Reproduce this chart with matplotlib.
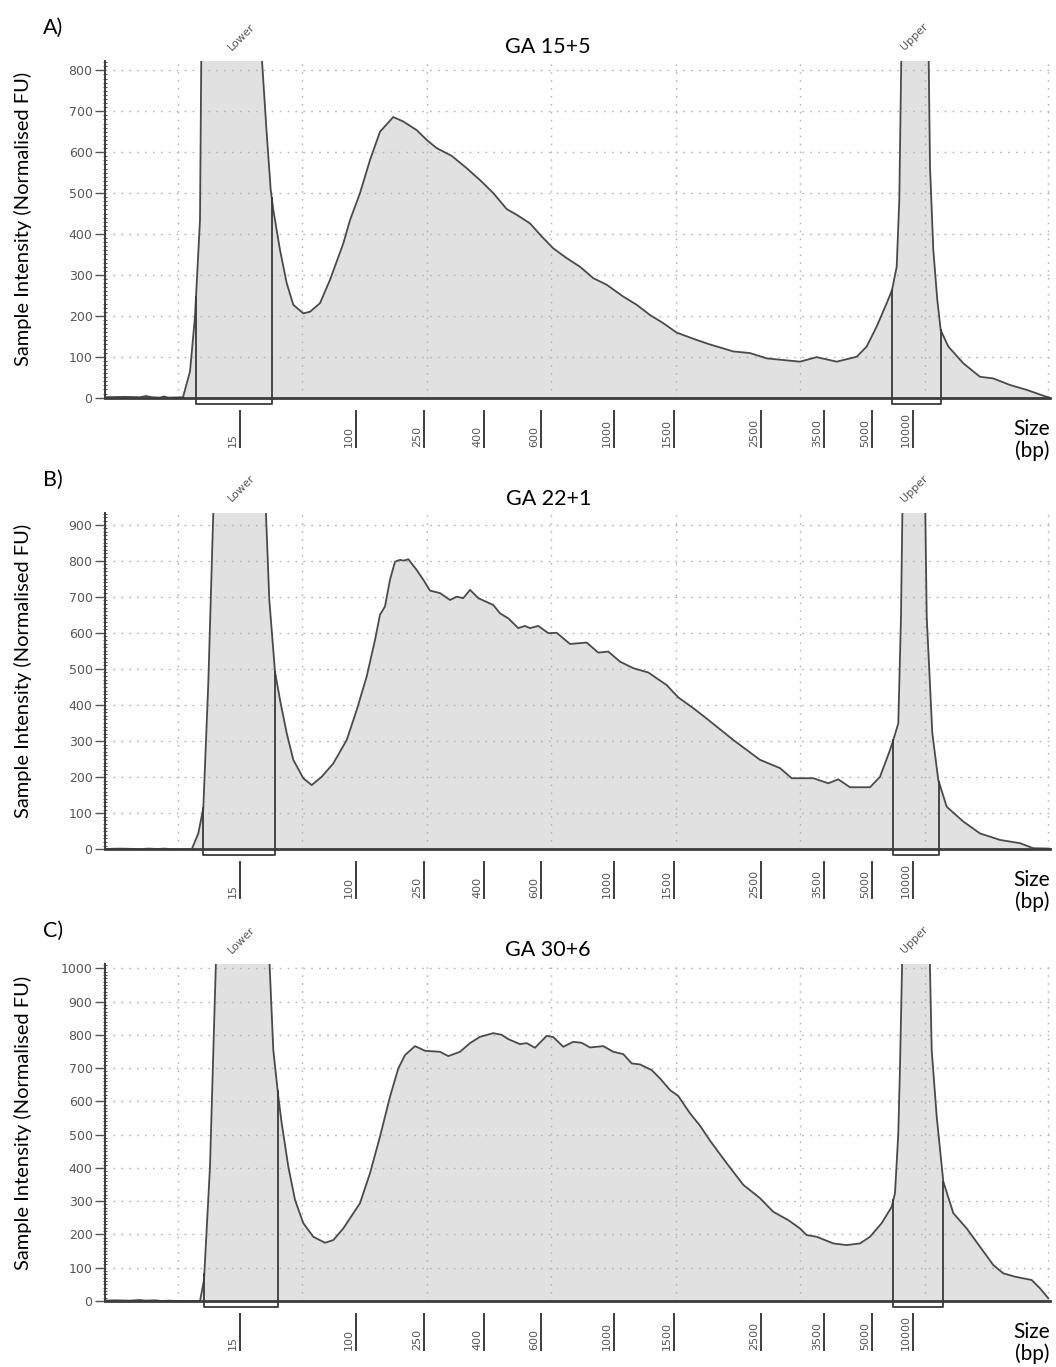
import numpy as np
import matplotlib.pyplot as plt
from matplotlib.ticker import MultipleLocator

W, H = 1056, 1367

# ladder (size standard) positions along the electrophoresis axis and their labels
ladder_pos = [240, 356, 424, 484, 541, 614, 674, 761, 824, 872, 913]
ladder_bp = ['15', '100', '250', '400', '600', '1000', '1500', '2500', '3500', '5000', '10000']
grid_pos = [178, 302, 427, 551, 676, 800, 925, 1048]
marker_names = ['Lower', 'Upper']
marker_label_pos = [233, 906]

# A) GA 15+5
pos_a = [105, 125, 140, 146, 152, 160, 164, 168, 183, 190, 195, 200, 201.5, 260, 266.7, 270.7, 273.3,
         280, 286.7, 293.3, 303.3, 310, 320, 330, 343.3, 350, 360, 370, 380, 393.3, 403.3, 416.7,
         426.7, 436.7, 451.7, 466.7, 481.7, 493.3, 506.7, 516.7, 530, 541.7, 553.3, 566.7, 580,
         593.3, 606.7, 623.3, 636.7, 650, 663.3, 676.7, 696.7, 710, 733.3, 750, 766.7, 783.3, 800,
         816.7, 836.7, 856.7, 866.7, 876.7, 886.7, 892, 896.7, 899.3, 901.7, 928.3, 930, 933.3,
         937.3, 940.7, 948.3, 963.3, 980, 993.3, 1010, 1026.7, 1046.7, 1050]
fu_a = [1, 2, 1, 4, 1, 0, 3, 0, 1, 64, 198, 434, 900, 900, 646, 508, 459,
        361, 280, 227, 206, 210, 231, 288, 377, 434, 500, 581, 650, 686, 675, 654,
        630, 610, 591, 561, 528, 500, 461, 447, 426, 394, 365, 341, 320,
        292, 276, 247, 227, 202, 182, 159, 141, 130, 113, 109, 96, 92, 88,
        99, 88, 100, 125, 174, 231, 263, 320, 483, 900, 900, 565, 361,
        239, 165, 125, 84, 51, 47, 31, 19, 2, 0]
regions_a = [(196, 271.7), (892, 940.7)]

# B) GA 22+1
pos_b = [105, 120, 135, 140, 148, 158, 165, 172, 191.7, 198.3, 203.3, 208.3, 214, 265, 269.3, 275,
         280, 286.7, 293.3, 303.3, 311.7, 321.7, 333.3, 346.7, 356.7, 366.7, 375, 380, 385, 390,
         395, 400, 404, 408.3, 416.7, 423.3, 430, 440, 450, 456.7, 463.3, 470, 478.3, 493.3, 500,
         508.3, 518.3, 525, 530, 538.3, 548.3, 556.7, 570, 586.7, 598.3, 608.3, 620, 633.3, 648.3,
         666.7, 678.3, 693.3, 705, 716.7, 733.3, 760, 780, 791.7, 800, 813.3, 828.3, 838.3, 850,
         870, 880, 890, 893.3, 898.3, 901, 902.7, 925, 926.7, 932.3, 938.3, 946.7, 963.3, 980,
         1000, 1020, 1033.3, 1050]
fu_b = [1, 2, 1, 0, 2, 1, 2, 0, 0, 44, 114, 460, 1000, 1000, 691, 492,
        414, 322, 248, 197, 178, 201, 238, 303, 386, 479, 580, 650, 673, 747,
        797, 802, 800, 804, 774, 747, 717, 710, 691, 700, 696, 719, 696, 677, 654,
        640, 613, 619, 613, 619, 599, 600, 569, 573, 545, 548, 520, 502, 490,
        455, 421, 391, 366, 340, 303, 248, 225, 197, 197, 197, 183, 194, 172,
        172, 201, 275, 303, 349, 645, 1000, 1000, 645, 322, 192, 118, 77, 44,
        26, 17, 3, 2]
regions_b = [(203.3, 275), (893.3, 939)]

# C) GA 30+6
pos_c = [104, 115, 130, 140, 145, 155, 162, 170, 175, 200, 204, 210, 216.7, 268.3, 273.3, 278.3,
         281.7, 288.3, 295, 303.3, 313.3, 325, 333.3, 343.3, 360, 370, 380, 390, 398.3, 405, 415,
         425, 440, 448.3, 460, 470, 480, 493.3, 501.7, 508.3, 520, 526.7, 535, 546.7, 553.3, 563.3,
         573.3, 581.7, 590, 603.3, 613.3, 623.3, 631.7, 640, 651.7, 660, 670, 678.3, 690, 700, 710,
         726.7, 743.3, 760, 773.3, 788.3, 800, 806.7, 816.7, 833.3, 846.7, 860, 870, 881.7, 891.7,
         895, 898.3, 900, 902.7, 929.3, 931.7, 936.7, 943.3, 953.3, 966.7, 980, 993.3, 1003.3,
         1015, 1031.7, 1040, 1048.3]
fu_c = [1, 2, 1, 3, 1, 2, 0, 1, 0, 0, 63, 404, 1100, 1100, 754, 614,
        534, 404, 304, 234, 193, 175, 183, 218, 294, 384, 494, 614, 699, 739, 766,
        752, 749, 736, 749, 775, 794, 805, 800, 787, 772, 775, 761, 797, 793, 764,
        779, 776, 762, 766, 749, 742, 714, 711, 694, 669, 634, 616, 564, 527, 482,
        414, 349, 309, 268, 243, 218, 198, 193, 173, 168, 173, 193, 234, 283,
        324, 504, 704, 1100, 1100, 754, 554, 359, 264, 218, 163, 108, 83,
        73, 63, 38, 8]
regions_c = [(204.3, 277.7), (893.3, 943.3)]

panels = [
    ('A)', 'GA 15+5', pos_a, fu_a, regions_a, 823, 800, 0.7091),
    ('B)', 'GA 22+1', pos_b, fu_b, regions_b, 933, 900, 0.3787),
    ('C)', 'GA 30+6', pos_c, fu_c, regions_c, 1012, 1000, 0.0483),
]

ui_font = ['Lato', 'DejaVu Sans']
line_col = '#4a4a4a'
fill_col = '#e1e1e1'
grid_kw = dict(color='#b4b4b4', linewidth=1.0, linestyle=(0, (1.2, 4.5)))

fig = plt.figure(figsize=(W / 100, H / 100), dpi=100)

for letter, title, pos, fu, regions, ytop, ymaxtick, bottom in panels:
    ax = fig.add_axes([105 / W, bottom, 945 / W, 0.2463])
    h_px = 0.2463 * H
    ax.set_xlim(105, 1050)
    ax.set_ylim(0, ytop)

    ax.fill_between(pos, fu, 0, color=fill_col, linewidth=0, zorder=1)
    ax.plot(pos, fu, color=line_col, linewidth=1.3, zorder=3)

    # grid
    for g in grid_pos:
        ax.axvline(g, zorder=2, **grid_kw)
    for yv in range(100, ymaxtick + 1, 100):
        ax.axhline(yv, zorder=2, **grid_kw)

    # spines / ticks
    for s in ['top', 'right']:
        ax.spines[s].set_visible(False)
    ax.spines['left'].set_color('#3c3c3c')
    ax.spines['left'].set_linewidth(1.4)
    ax.spines['bottom'].set_color('#3c3c3c')
    ax.spines['bottom'].set_linewidth(2.0)
    ax.spines['bottom'].set_zorder(4)
    ax.set_xticks([])
    ax.set_yticks(range(0, ymaxtick + 1, 100))
    ax.yaxis.set_minor_locator(MultipleLocator(10))
    ax.tick_params(axis='y', which='major', length=7, width=1.0, color='#555555',
                   labelsize=9, labelcolor='#555555', pad=2)
    ax.tick_params(axis='y', which='minor', length=3, width=0.8, color='#555555',
                   direction='inout')

    tr = ax.get_xaxis_transform()
    px = lambda p: p / h_px

    # marker regions
    for (x0, x1), name, lx in zip(regions, marker_names, marker_label_pos):
        y0 = np.interp(x0, pos, fu)
        y1 = np.interp(x1, pos, fu)
        ybot = -6 * ytop / h_px
        ax.plot([x0, x0, x1, x1], [y0, ybot, ybot, y1], color='#3a3a3a',
                linewidth=1.3, clip_on=False, zorder=5)
        ax.text(lx, 1 + px(9), name, transform=tr, rotation=45, rotation_mode='anchor',
                ha='left', va='bottom', fontsize=8, color='#555555')

    # ladder ticks
    for xp, lab in zip(ladder_pos, ladder_bp):
        ax.plot([xp, xp], [-px(13), -px(49)], transform=tr, color='#3c3c3c',
                linewidth=1.4, clip_on=False)
        ax.text(xp - 2, -px(49), lab, transform=tr, rotation=90, ha='right', va='bottom',
                fontsize=8, color='#555555')

    ax.text(1.0, -px(42), 'Size\n(bp)', transform=ax.transAxes, ha='right', va='center',
            fontsize=15, family=ui_font, linespacing=1.1)
    ax.text(0.469, 1 + px(14), title, transform=ax.transAxes, ha='center', va='center',
            fontsize=15.5, family=ui_font)
    ax.text((53 - 105) / 945, 1 + px(33), letter, transform=ax.transAxes, ha='center',
            va='center', fontsize=15.5, family=ui_font)
    ax.text((23 - 105) / 945, 0.5 + px(10), 'Sample Intensity (Normalised FU)',
            transform=ax.transAxes, rotation=90, ha='center', va='center',
            fontsize=14.5, family=ui_font)

fig.savefig('out.png', dpi=100)
